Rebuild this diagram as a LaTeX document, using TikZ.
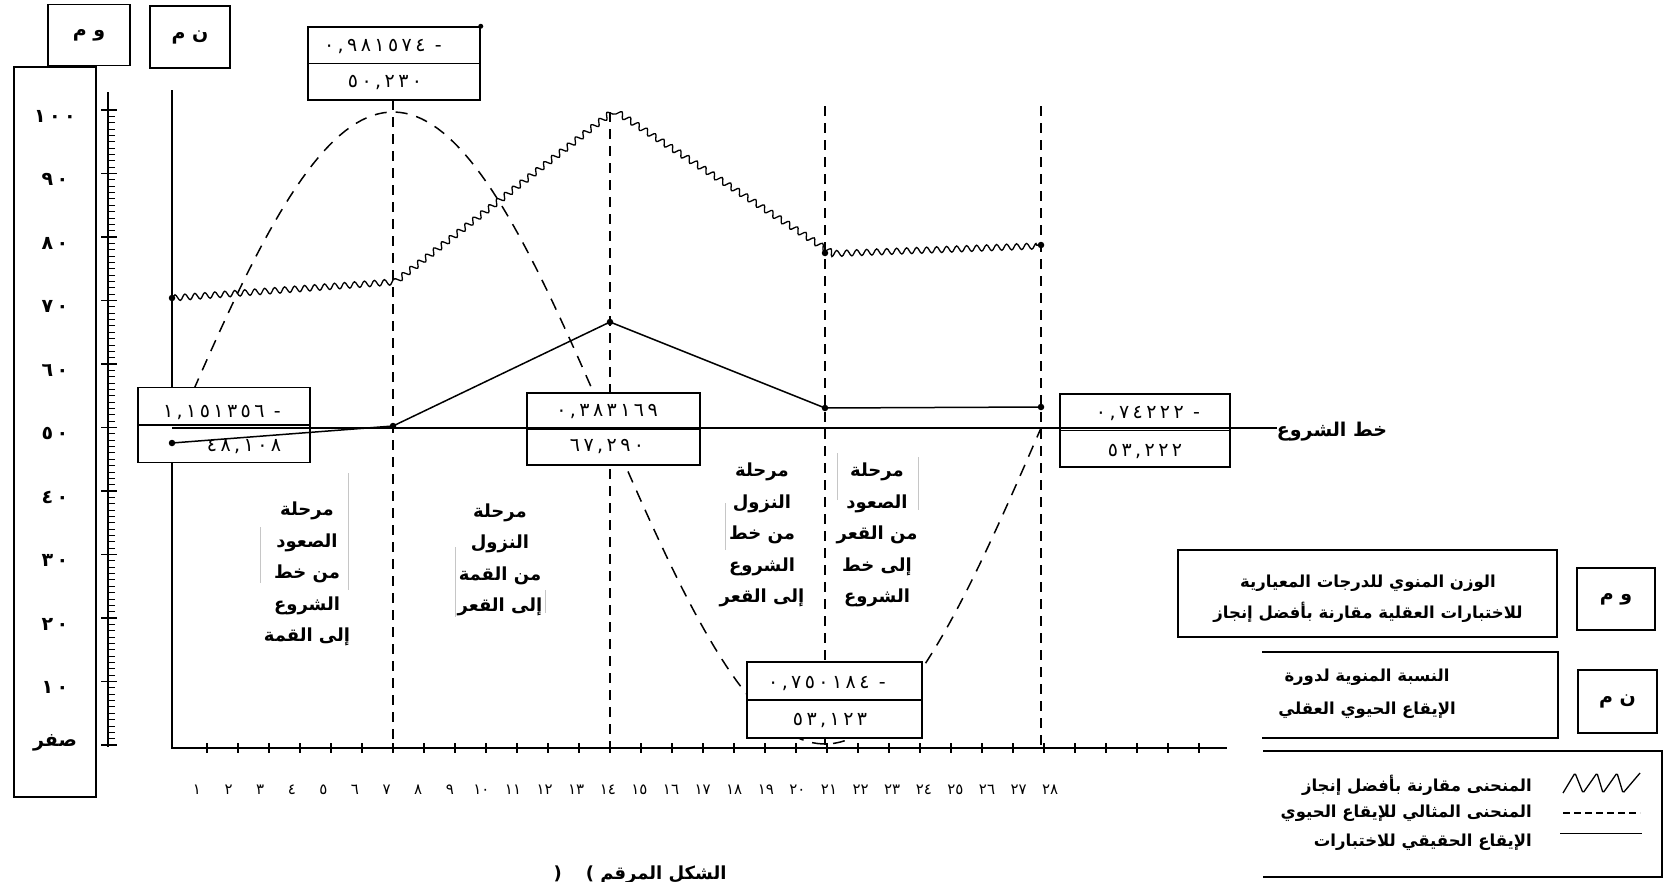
\documentclass[tikz,border=0pt]{standalone}
\usepackage{fontspec}
\setmainfont{DejaVu Sans}
\newfontfamily\ar[Script=Arabic]{DejaVu Sans}
\newfontfamily\dig[LetterSpace=18]{DejaVu Sans}
\TeXXeTstate=1
\usetikzlibrary{decorations.pathmorphing}
\newcommand{\rl}[1]{\beginR #1\endR}
\begin{document}
\begin{tikzpicture}[x=1pt,y=-1pt,
  frame/.style={draw, line width=1.5pt, inner sep=0pt},
  wbox/.style={draw, line width=1.5pt, fill=white, inner sep=0pt},
  num/.style={font=\dig\fontsize{19}{21}\selectfont, inner sep=0pt},
  scl/.style={font=\dig\bfseries\fontsize{19}{21}\selectfont, inner sep=0pt},
  xl/.style={font=\ar\fontsize{15}{17}\selectfont, inner sep=0pt},
  ph/.style={font=\ar\bfseries\fontsize{18}{31.5}\selectfont, align=center, inner sep=0pt},
  lt/.style={font=\ar\bfseries\fontsize{16.5}{18}\selectfont, inner sep=0pt},
  abbr/.style={font=\ar\bfseries\fontsize{19}{21}\selectfont},
  axis/.style={line width=1.6pt},
  dcurve/.style={line width=1.5pt, dash pattern=on 12pt off 9pt},
  dvert/.style={line width=1.5pt, dash pattern=on 10pt off 7pt},
  wavy/.style={line width=1.3pt, decorate, decoration={snake, segment length=10pt, amplitude=3pt}},
  solid line/.style={line width=1.5pt},
  faint/.style={gray!45, line width=0.6pt},
  dot/.style={circle, fill=black, inner sep=0pt, minimum size=6.5pt}
]
\useasboundingbox (0,0) rectangle (1669,881);

% ---------- top-left boxes ----------
\node[frame, abbr, minimum width=82pt, minimum height=61pt] (vmtop) at (89,35) {\rl{و م}};
\node[frame, abbr, minimum width=80pt, minimum height=62pt] (nmtop) at (190,37) {\rl{ن م}};

% ---------- scale box ----------
\node[frame, minimum width=82pt, minimum height=730pt] (scalebox) at (55,432) {};
\coordinate (rt) at (108,92);
\coordinate (rb) at (108,747);
\draw[axis] (rt) -- (rb);
\foreach \v in {0,...,100} \draw[line width=0.9pt] (108,{745-6.35*\v}) -- (115,{745-6.35*\v});
\foreach \v in {0,10,...,100} \draw[line width=1.3pt] (101,{745-6.35*\v}) -- (117,{745-6.35*\v});
\foreach \lab/\v in {١٠٠/100,٩٠/90,٨٠/80,٧٠/70,٦٠/60,٥٠/50,٤٠/40,٣٠/30,٢٠/20,١٠/10}
  \node[scl] (s\v) at (55,{751-6.35*\v}) {\lab};
\node[font=\ar\bfseries\fontsize{19}{21}\selectfont] (s0) at (55,743) {صفر};

% ---------- main axes ----------
\coordinate (o) at (172,748);
\coordinate (ytop) at (172,90);
\coordinate (xend) at (1227,748);
\draw[axis] (ytop) -- (o) -- (xend);
\foreach \i in {1,...,33} \draw[line width=1.1pt] ({393+(\i-7)*31},743) -- ({393+(\i-7)*31},753);
\foreach \lab [count=\i] in {١,٢,٣,٤,٥,٦,٧,٨,٩,١٠,١١,١٢,١٣,١٤,١٥,١٦,١٧,١٨,١٩,٢٠,٢١,٢٢,٢٣,٢٤,٢٥,٢٦,٢٧,٢٨}
  \node[xl] (xl\i) at ({197+(\i-1)*31.6},790) {\lab};

% ---------- dashed ideal curve ----------
\draw[dcurve] plot[domain=177:1041, samples=160] (\x,{428-316*sin((\x-177)/2.4)});

% ---------- wavy curve ----------
\coordinate (w0) at (172,298);
\coordinate (w7) at (393,282);
\coordinate (w14) at (610,112);
\coordinate (w21) at (825,253);
\coordinate (w28) at (1041,245);
\draw[wavy] (w0) -- (w7) -- (w14) -- (w21) -- (w28);
\node[dot] (dw0) at (w0) {};
\node[dot] (dw21) at (w21) {};
\node[dot] (dw28) at (w28) {};

% ---------- dashed verticals ----------
\coordinate (v7t) at (393,100);  \coordinate (v7b) at (393,748);
\coordinate (v14b) at (610,748);
\coordinate (v21t) at (825,106); \coordinate (v21b) at (825,748);
\coordinate (v28t) at (1041,106); \coordinate (v28b) at (1041,748);
\draw[dvert] (v7t) -- (v7b);
\draw[dvert] (w14) -- (v14b);
\draw[dvert] (v21t) -- (v21b);
\draw[dvert] (v28t) -- (v28b);

% ---------- value boxes ----------
\node[wbox, minimum width=172pt, minimum height=73pt] (b0) at (394,63.5) {};
\node[wbox, minimum width=172pt, minimum height=75pt] (b1) at (224,425) {};
\node[wbox, minimum width=173pt, minimum height=72pt] (b2) at (613.5,429) {};
\node[wbox, minimum width=175pt, minimum height=76pt] (b3) at (834.5,700) {};
\node[wbox, minimum width=170pt, minimum height=73pt] (b4) at (1145,430.5) {};
\node[dot, minimum size=5pt] (b0dot) at (b0.north east) {};

% ---------- start line ----------
\coordinate (sl0) at (172,428);
\node[lt, font=\ar\bfseries\fontsize{19}{21}\selectfont] (sl) at (1332,432) {\rl{خط الشروع}};
\draw[line width=1.3pt] (sl0) -- (sl0 -| sl.west);

% ---------- actual rhythm ----------
\coordinate (p1) at (172,443);
\coordinate (p7) at (393,426);
\coordinate (p14) at (610,322);
\coordinate (p21) at (825,408);
\coordinate (p28) at (1041,407);
\draw[solid line] (p1) -- (p7) -- (p14) -- (p21) -- (p28);
\foreach \p in {p1,p7,p14,p21,p28} \node[dot] (d\p) at (\p) {};

% ---------- box dividers and numbers ----------
\foreach \b in {b0,b1,b2,b3,b4} \draw[line width=1.3pt] (\b.west) -- (\b.east);
\node[num] (b0t) at (383,46) {٠,٩٨١٥٧٤ -};
\node[num] (b0b) at (385,82) {٥٠,٢٣٠};
\node[num] (b1t) at (222,412) {١,١٥١٣٥٦ -};
\node[num] (b1b) at (244,447) {٤٨,١٠٨};
\node[num] (b2t) at (607,412) {٠,٣٨٣١٦٩};
\node[num] (b2b) at (607,447) {٦٧,٢٩٠};
\node[num] (b3t) at (827,683) {٠,٧٥٠١٨٤ -};
\node[num] (b3b) at (830,720) {٥٣,١٢٣};
\node[num] (b4t) at (1148,414) {٠,٧٤٢٢٢ -};
\node[num] (b4b) at (1145,451) {٥٣,٢٢٢};

% ---------- phase texts ----------
\node[ph] (ph1) at (307,574) {\rl{مرحلة}\\\rl{الصعود}\\\rl{من خط}\\\rl{الشروع}\\\rl{إلى القمة}};
\node[ph] (ph2) at (500,560) {\rl{مرحلة}\\\rl{النزول}\\\rl{من القمة}\\\rl{إلى القعر}};
\node[ph] (ph3) at (762,535) {\rl{مرحلة}\\\rl{النزول}\\\rl{من خط}\\\rl{الشروع}\\\rl{إلى القعر}};
\node[ph] (ph4) at (877,535) {\rl{مرحلة}\\\rl{الصعود}\\\rl{من القعر}\\\rl{إلى خط}\\\rl{الشروع}};
\draw[faint] (348,473) -- (348,590);
\draw[faint] (260,527) -- (260,583);
\draw[faint] (455,547) -- (455,617);
\draw[faint] (545,590) -- (545,613);
\draw[faint] (725,503) -- (725,550);
\draw[faint] (837,453) -- (837,500);
\draw[faint] (918,457) -- (918,510);

% ---------- legend ----------
\node[frame, minimum width=379pt, minimum height=87pt] (legA) at (1367.5,593.5) {};
\node[lt] (legA1) at (1368,583) {\rl{الوزن المنوي للدرجات المعيارية}};
\node[lt] (legA2) at (1368,612) {\rl{للاختبارات العقلية مقارنة بأفضل إنجاز}};
\node[frame, abbr, minimum width=78pt, minimum height=62pt] (legvm) at (1616,599) {\rl{و م}};

\coordinate (B1) at (1262,652); \coordinate (B2) at (1558,652);
\coordinate (B3) at (1558,738); \coordinate (B4) at (1262,738);
\draw[line width=1.5pt] (B1) -- (B2) -- (B3) -- (B4);
\node[lt] (legB1) at (1367,677) {\rl{النسبة المنوية لدورة}};
\node[lt] (legB2) at (1367,710) {\rl{الإيقاع الحيوي العقلي}};
\node[frame, abbr, minimum width=79pt, minimum height=63pt] (legnm) at (1617.5,701.5) {\rl{ن م}};

\coordinate (C1) at (1263,751); \coordinate (C2) at (1662,751);
\coordinate (C3) at (1662,877); \coordinate (C4) at (1263,877);
\draw[line width=1.5pt] (C1) -- (C2) -- (C3) -- (C4);
\node[lt, anchor=east] (legC1) at (1532,785) {\rl{المنحنى مقارنة بأفضل إنجاز}};
\node[lt, anchor=east] (legC2) at (1532,813) {\rl{المنحنى المثالي للإيقاع الحيوي}};
\node[lt, anchor=east] (legC3) at (1532,842) {\rl{الإيقاع الحقيقي للاختبارات}};
\coordinate (z0) at (1563,793);
\draw[line width=1.3pt, rounded corners=1.5pt] (z0) -- (1575,773) -- (1583,793) -- (1597,773) -- (1603,793) -- (1617,773) -- (1623,793) -- (1640,773);
\coordinate (dl0) at (1563,813); \coordinate (dl1) at (1640,813);
\draw[line width=1.3pt, dash pattern=on 7pt off 4pt] (dl0) -- (dl1);
\coordinate (sl1) at (1560,833); \coordinate (sl2) at (1642,833);
\draw[line width=1pt] (sl1) -- (sl2);

% ---------- caption (cut off at bottom, as in the reference) ----------
\node[font=\ar\bfseries\fontsize{18}{20}\selectfont, anchor=base, inner sep=0pt] (caption) at (640,879) {(\hspace{24pt})\ \rl{الشكل المرقم}};
\end{tikzpicture}
\end{document}
